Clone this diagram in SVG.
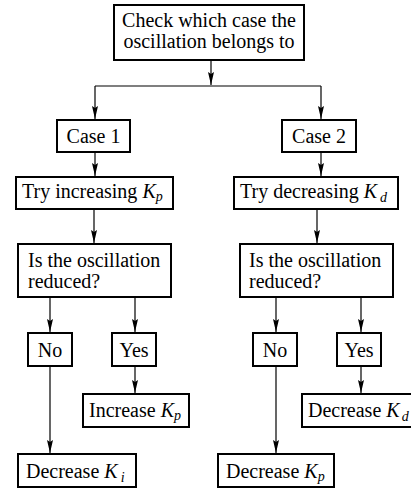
<svg xmlns="http://www.w3.org/2000/svg" width="411" height="488" viewBox="0 0 411 488" font-family="'Liberation Serif', 'Times New Roman', Times, serif">
<style>
.box{fill:#fff;stroke:#000;stroke-width:2}
text{font-size:20px;fill:#000}
.m{text-anchor:middle}
.k{font-style:italic}
.s{font-style:italic;font-size:14px}
.c{fill:none;stroke:#000;stroke-width:1.2}
</style>
<defs>
<marker id="a" markerUnits="userSpaceOnUse" markerWidth="14" markerHeight="8" refX="13" refY="3" orient="auto" viewBox="0 0 14 6">
<path d="M0,0 L13,3 L0,6 L2,3 Z" fill="#000"/>
</marker>
</defs>
<g id="connectors">
<path class="c" d="M211,60 V85" marker-end="url(#a)"/>
<path class="c" d="M95,86 H321"/>
<path class="c" d="M95,86 V119" marker-end="url(#a)"/>
<path class="c" d="M321,86 V119" marker-end="url(#a)"/>
<path class="c" d="M95,152 V176" marker-end="url(#a)"/>
<path class="c" d="M321,152 V176" marker-end="url(#a)"/>
<path class="c" d="M94,209 V243" marker-end="url(#a)"/>
<path class="c" d="M317,209 V243" marker-end="url(#a)"/>
<path class="c" d="M50,297 V332" marker-end="url(#a)"/>
<path class="c" d="M135,297 V332" marker-end="url(#a)"/>
<path class="c" d="M276,297 V332" marker-end="url(#a)"/>
<path class="c" d="M361,297 V332" marker-end="url(#a)"/>
<path class="c" d="M135,366 V393" marker-end="url(#a)"/>
<path class="c" d="M361,366 V393" marker-end="url(#a)"/>
<path class="c" d="M50,366 V453" marker-end="url(#a)"/>
<path class="c" d="M276,366 V453" marker-end="url(#a)"/>
</g>
<g id="start">
<rect class="box" x="114" y="5" width="190" height="55"/>
<text class="m" x="209" y="27">Check which case the</text>
<text class="m" x="209" y="48">oscillation belongs to</text>
</g>
<g id="case1">
<rect class="box" x="57" y="120" width="73" height="32"/>
<text class="m" x="93.5" y="143">Case 1</text>
</g>
<g id="case2">
<rect class="box" x="282" y="120" width="74" height="32"/>
<text class="m" x="319" y="143">Case 2</text>
</g>
<g id="tryKp">
<rect class="box" x="16" y="177" width="157" height="32"/>
<text x="22" y="198">Try increasing <tspan class="k">K</tspan><tspan class="s" dy="3">p</tspan></text>
</g>
<g id="tryKd">
<rect class="box" x="234" y="177" width="164" height="32"/>
<text x="240" y="198">Try decreasing <tspan class="k">K</tspan><tspan class="s" dx="3" dy="4">d</tspan></text>
</g>
<g id="q1">
<rect class="box" x="18" y="244" width="153" height="53"/>
<text x="28" y="267">Is the oscillation</text>
<text x="28" y="288">reduced?</text>
</g>
<g id="q2">
<rect class="box" x="240" y="244" width="153" height="53"/>
<text x="249" y="267">Is the oscillation</text>
<text x="249" y="288">reduced?</text>
</g>
<g id="no1">
<rect class="box" x="28" y="333" width="44" height="33"/>
<text class="m" x="50" y="357">No</text>
</g>
<g id="yes1">
<rect class="box" x="112" y="333" width="44" height="33"/>
<text class="m" x="134" y="357">Yes</text>
</g>
<g id="no2">
<rect class="box" x="253" y="333" width="44" height="33"/>
<text class="m" x="275" y="357">No</text>
</g>
<g id="yes2">
<rect class="box" x="337" y="333" width="44" height="33"/>
<text class="m" x="359" y="357">Yes</text>
</g>
<g id="incKp">
<rect class="box" x="83" y="394" width="106" height="33"/>
<text x="89" y="417">Increase <tspan class="k">K</tspan><tspan class="s" dy="3">p</tspan></text>
</g>
<g id="decKd">
<rect class="box" x="302" y="394" width="112" height="33"/>
<text x="308" y="417">Decrease <tspan class="k">K</tspan><tspan class="s" dx="2" dy="4">d</tspan></text>
</g>
<g id="decKi">
<rect class="box" x="18" y="454" width="118" height="33"/>
<text x="26" y="478">Decrease <tspan class="k">K</tspan><tspan class="s" dx="3" dy="4">i</tspan></text>
</g>
<g id="decKp">
<rect class="box" x="218" y="454" width="116" height="33"/>
<text x="226" y="478">Decrease <tspan class="k">K</tspan><tspan class="s" dy="3">p</tspan></text>
</g>
</svg>
